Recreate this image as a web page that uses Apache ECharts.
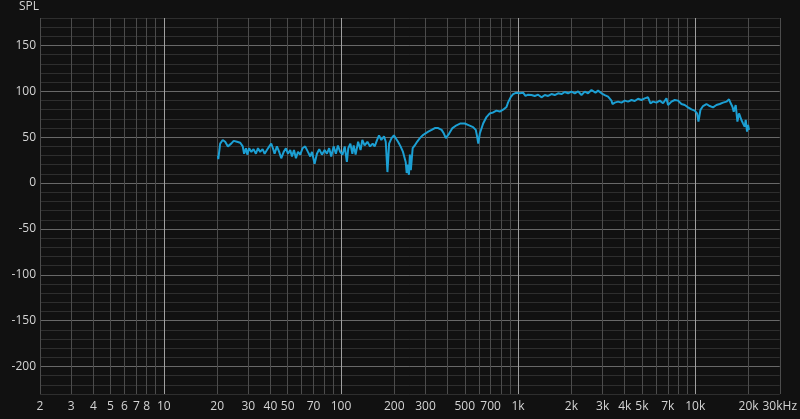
<!DOCTYPE html>
<html><head><meta charset="utf-8">
<script src="https://cdn.jsdelivr.net/npm/echarts@6/dist/echarts.min.js"></script>
<style>html,body{margin:0;padding:0;background:#111111;}#chart{width:800px;height:419px;}</style>
</head><body><div id="chart"></div>
<script>
const freqHz = [20.2,20.3,20.8,21.5,22.2,23.0,23.4,24.0,24.8,25.9,27.0,27.9,28.4,29.1,29.6,30.3,31.2,32.1,33.1,34.0,35.0,36.1,37.1,38.2,39.4,40.4,41.3,42.2,43.5,44.8,46.0,47.5,48.9,50.2,51.7,52.9,54.3,55.7,57.2,58.9,60.7,62.8,65.1,67.1,68.6,71.0,73.2,75.4,78.1,80.9,83.3,85.8,88.1,90.9,93.6,96.1,99.0,
102,105,108,110,113,116,118,121,125,129,132,136,141,146,151,155,160,164,169,175,179,183,187,193,199,204,210,217,224,232,235,239,242,245,248,254,261,269,279,289,299,311,325,339,354,370,381,391,398,408,426,449,473,500,529,557,577,588,596,608,635,663,692,723,755,788,823,860,878,910,937,979,
1022,1067,1101,1139,1190,1242,1297,1355,1415,1477,1543,1611,1682,1758,1835,1915,2001,2089,2181,2279,2379,2483,2596,2650,2734,2828,2956,3085,3220,3292,3366,3410,3481,
3513,3667,3833,4001,4176,4365,4556,4756,4971,5188,5416,5587,5779,6040,6305,6581,6878,7023,7340,7661,7997,8359,8725,9107,9518,9935,10237,10425,10699,11067,11567,12073,12602,13172,13749,14351,15000,15515,15861,16216,16492,16926,17303,17667,18227,18610,19026,19275,19603,19860,20120];
const splDb = [30,26,43,47,45,40,38,43,46,45,44,40,32,38,31,38,34,37,32,38,34,37,32,36,40,43,38,32,40,34,27,34,38,32,36,29,36,27,34,31,38,40,34,29,34,21,32,37,31,36,32,38,29,40,32,41,34,
31,40,23,38,43,32,41,31,45,36,47,41,45,40,43,40,47,52,47,51,45,12,43,49,52,51,45,40,34,23,11,20,9,31,14,38,41,45,49,52,54,56,58,60,60,58,54,49,47,54,60,63,65,65,63,61,58,50,43,54,65,72,76,77,79,78,80,83,88,94,97,98.6,
97.9,98.6,95,96.4,96,95,96.4,93.5,96,95,97.1,96,97.9,97.1,99.3,97.9,99.7,97.9,100,96,99.7,97.9,101.5,103.3,98.6,100.8,97.9,96,94.2,92.4,89.9,86.2,87,
87.7,88.8,87.7,89.9,88.8,90.6,89.5,92,90.6,92.4,93.5,87,88.8,87.7,89.9,87,92.4,85.1,88.8,90.6,89.9,86.2,85.1,82.6,80.4,79,76,67,79.7,84,86.2,84,82.6,85.1,86.2,87.7,88.8,91.3,87,83.3,77.9,85.1,67,76,68.8,65.1,61.5,68.8,56,63.3,58];
const xTickFreqs = [2,3,4,5,6,7,8,10,20,30,40,50,70,100,200,300,500,700,1000,2000,3000,4000,5000,7000,10000,20000,30000];
const xTickLabels = ['2','3','4','5','6','7','8','10','20','30','40','50','70','100','200','300','500','700','1k','2k','3k','4k','5k','7k','10k','20k','30kHz'];
const yTickValues = [-200,-150,-100,-50,0,50,100,150];
const yMin = -230, yMax = 180;
const fMin = 2, fMax = 30000;

const lg = Math.log10;
const minorX = [], decadeX = [];
for (let e = 0; e <= 4; e++) {
  for (let m = 1; m <= 9; m++) {
    const f = m * Math.pow(10, e);
    if (f < fMin || f > fMax) continue;
    if (m === 1) decadeX.push(lg(f)); else minorX.push(lg(f));
  }
}
const minorY = [];
for (let v = yMin; v <= yMax; v += 10) { if (v % 50 !== 0) minorY.push(v); }

const textColor = '#d4d4d4';
const font = '"Open Sans", "Noto Sans", sans-serif';
const chart = echarts.init(document.getElementById('chart'), null, {renderer: 'canvas'});
chart.setOption({
  animation: false,
  backgroundColor: '#111111',
  title: {text: 'SPL', left: 19, top: 1, padding: 0,
    textStyle: {color: textColor, fontSize: 12, fontWeight: 'normal', fontFamily: font}},
  grid: {left: 40, right: 20, top: 18, bottom: 25, containLabel: false},
  xAxis: [
    {type: 'value', min: lg(fMin), max: lg(fMax), position: 'bottom',
      axisLine: {show: false}, axisTick: {show: false, customValues: minorX},
      axisLabel: {show: false},
      splitLine: {show: true, lineStyle: {color: '#4c4c4c', width: 1}}},
    {type: 'value', min: lg(fMin), max: lg(fMax), position: 'bottom',
      axisLine: {show: false}, axisTick: {show: false, customValues: decadeX},
      axisLabel: {show: true, customValues: xTickFreqs.map(lg), color: textColor, fontSize: 12,
        fontFamily: font, margin: 7, hideOverlap: false, showMinLabel: true, showMaxLabel: true,
        formatter: function (val) {
          const i = xTickFreqs.findIndex(f => Math.abs(lg(f) - val) < 1e-6);
          return i >= 0 ? xTickLabels[i] : '';
        }},
      splitLine: {show: true, lineStyle: {color: '#a0a0a0', width: 1}}}
  ],
  yAxis: [
    {type: 'value', min: yMin, max: yMax, position: 'left',
      axisLine: {show: false}, axisTick: {show: false, customValues: minorY},
      axisLabel: {show: false},
      splitLine: {show: true, lineStyle: {color: '#2e2e2e', width: 1}}},
    {type: 'value', min: yMin, max: yMax, position: 'left',
      axisLine: {show: false}, axisTick: {show: false, customValues: yTickValues},
      axisLabel: {show: true, customValues: yTickValues, color: textColor, fontSize: 12,
        fontFamily: font, margin: 4},
      splitLine: {show: true, lineStyle: {color: '#686868', width: 1}}}
  ],
  series: [{
    type: 'line', xAxisIndex: 0, yAxisIndex: 0, z: 10,
    showSymbol: false, symbol: 'none',
    lineStyle: {color: '#1c9fd3', width: 2},
    data: freqHz.map((f, i) => [lg(f), splDb[i]])
  }]
});
</script></body></html>
